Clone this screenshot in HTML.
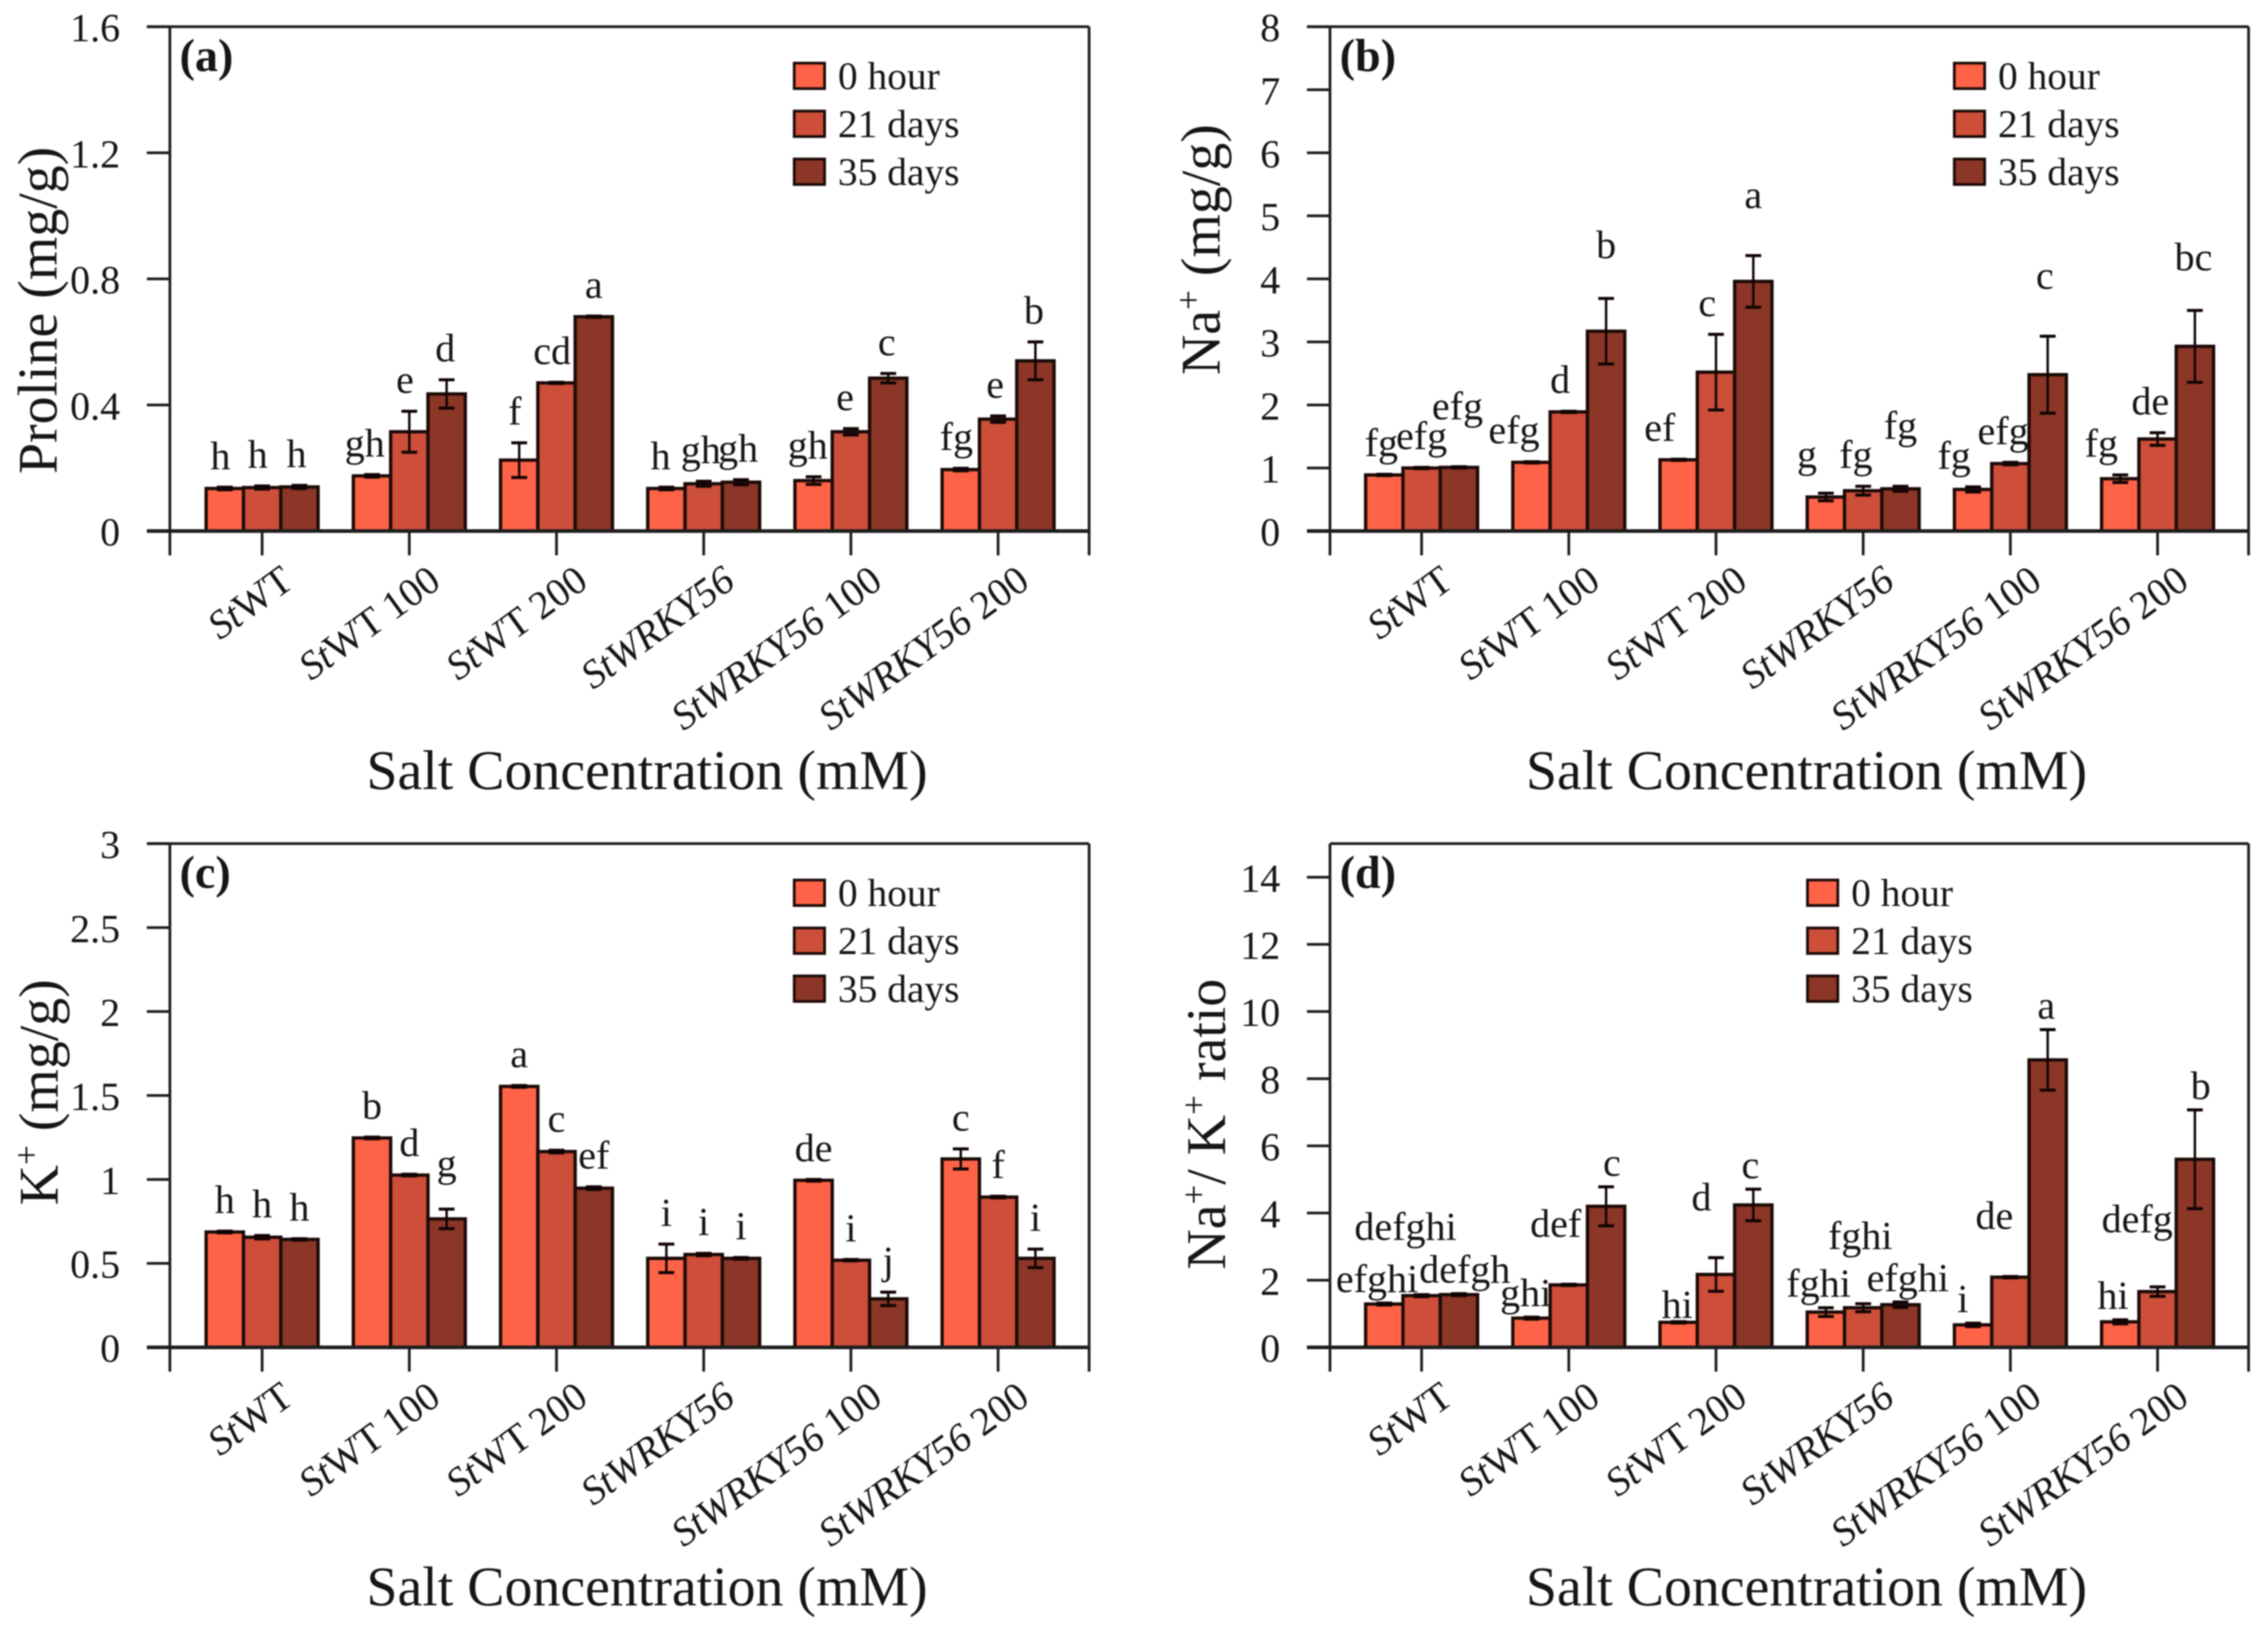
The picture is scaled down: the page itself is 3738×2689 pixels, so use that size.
<!DOCTYPE html>
<html lang="en">
<head>
<meta charset="utf-8">
<title>Salt stress physiology bar charts</title>
<style>
html,body{margin:0;padding:0;background:#fff;}
#chart{display:block;filter:blur(1px);}
text{font-family:"Liberation Serif",serif;fill:#161616;}
</style>
</head>
<body>
<svg id="chart" xmlns="http://www.w3.org/2000/svg" width="3738" height="2689" viewBox="0 0 3738 2689"></svg>
<script>
const categories = ['StWT','StWT 100','StWT 200','StWRKY56','StWRKY56 100','StWRKY56 200'];
const seriesNames = ['0 hour','21 days','35 days'];

const prolineValues = [[.135,.175,.225,.135,.16,.195],[.138,.315,.47,.15,.315,.355],[.14,.435,.68,.155,.485,.54]];
const prolineErrors = [[.004,.004,.055,.004,.012,.004],[.005,.065,.002,.008,.01,.01],[.005,.045,.002,.008,.015,.06]];
const prolineLetters = [['h','gh','f','h','gh','fg'],['h','e','cd','gh','e','e'],['h','d','a','gh','c','b']];
const prolineLift = [[0,0,0,0,0,0],[0,0,0,0,0,0],[0,0,0,0,0,0]];
const prolineNudge = [[-3,-5,-3,-4,-4,-3],[-3,-3,-3,-2,-4,-2],[-2,-1,0,-2,-1,-1]];
const prolineTicks = ['0','0.4','0.8','1.2','1.6'];

const sodiumValues = [[.89,1.09,1.13,.54,.66,.83],[1.0,1.89,2.52,.64,1.07,1.46],[1.01,3.17,3.96,.67,2.48,2.93]];
const sodiumErrors = [[.01,.01,.01,.06,.04,.06],[.01,.01,.6,.07,.02,.1],[.01,.52,.41,.04,.61,.57]];
const sodiumLetters = [['fg','efg','ef','g','fg','fg'],['efg','d','c','fg','efg','de'],['efg','b','a','fg','c','bc']];
const sodiumLift = [[0,0,0,1,0,0],[0,0,0,0,0,0],[4,3,4,4,4,3]];
const sodiumNudge = [[-2,-12,-13,-13,-13,-13],[0,-6,-6,-5,-5,-5],[-1,0,0,0,-2,-1]];
const sodiumTicks = ['0','1','2','3','4','5','6','7','8'];

const potassiumValues = [[.687,1.247,1.554,.53,.995,1.122],[.656,1.026,1.166,.553,.519,.895],[.643,.765,.948,.53,.289,.53]];
const potassiumErrors = [[.005,.005,.005,.085,.005,.06],[.01,.005,.008,.007,.004,.005],[.004,.058,.008,.005,.04,.055]];
const potassiumLetters = [['h','b','a','i','de','c'],['h','d','c','i','i','f'],['h','g','ef','i','j','i']];
const potassiumLift = [[0,0,0,0,0,0],[0,0,0,0,0,0],[0,2,0,0,0,0]];
const potassiumNudge = [[0,0,0,0,0,0],[0,0,0,0,0,0],[0,0,0,0,0,0]];
const potassiumTicks = ['0','0.5','1','1.5','2','2.5','3'];

const ratioValues = [[1.29,.87,.745,1.05,.67,.76],[1.54,1.86,2.17,1.18,2.09,1.66],[1.57,4.2,4.24,1.27,8.56,5.6]];
const ratioErrors = [[.03,.03,.02,.13,.05,.06],[.03,.02,.5,.12,.02,.14],[.03,.58,.47,.08,.9,1.47]];
const ratioLetters = [['efghi','ghi','hi','fghi','i','hi'],['defghi','def','d','fghi','de','defg'],['defgh','c','c','efghi','a','b']];
const ratioLift = [[-1,-1,-2,-1,-1,-1],[5,4,4,5,4,5],[-1,-1,-1,-1,-1,-1]];
const ratioNudge = [[-5,-4,-1,-5,-7,-5],[-11,-9,-10,-2,-11,-14],[4,4,-2,5,-1,4]];
const ratioTicks = ['0','2','4','6','8','10','12','14'];

const NS = 'http://www.w3.org/2000/svg';
const root = document.getElementById('chart');
const barColors = ['#FF6347','#CD4F39','#8B3626'];
const ink = '#1c0b08';

function make(parent, tag, attrs, content){
  const el = document.createElementNS(NS, tag);
  for (const k in attrs) el.setAttribute(k, attrs[k]);
  if (content !== undefined) el.textContent = content;
  parent.appendChild(el);
  return el;
}

function titleParts(parent, parts){
  parts.forEach(function(p){
    if (p === '+') {
      const s = make(parent, 'tspan', {dy:-32,'font-size':58}, '+');
      
      
      make(parent, 'tspan', {dy:32}, '\u200b');
    } else {
      make(parent, 'tspan', {}, p);
    }
  });
}

function drawCategoryLabel(g, name, x, y){
  const t = make(g, 'text', {x:x, y:y, 'text-anchor':'end', 'font-size':66,
    transform:'rotate(-36 '+x+' '+y+')'});
  
  
  const parts = name.split(' ');
  if (parts[0].indexOf('WRKY') >= 0) {
    make(t, 'tspan', {'font-style':'italic'}, parts[0]);
  } else {
    make(t, 'tspan', {'font-style':'italic'}, 'St');
    make(t, 'tspan', {}, parts[0].slice(2));
  }
  if (parts[1]) make(t, 'tspan', {}, ' ' + parts[1]);
}

function drawPanel(cfg){
  const g = make(root, 'g', {});
  
  

  const yScale = function(v){ return cfg.base - v / cfg.axisMax * (cfg.base - cfg.top); };
  const xCenter = function(i){ return cfg.firstTick + i * 242.6; };
  const barW = 61.5;
  const tickBottom = cfg.base + 40;
  const tickLeft = cfg.left - 38;

  // series bars
  cfg.values.forEach(function(series, s){
    series.forEach(function(v, i){
      const bx = xCenter(i) + (s - 1.5) * barW;
      const r = make(g, 'rect', {x:bx, y:yScale(v), width:barW, height:cfg.base - yScale(v),
        fill:barColors[s], stroke:ink, 'stroke-width':5.5});
      
      
    });
  });

  // error bars and letters
  cfg.values.forEach(function(series, s){
    series.forEach(function(v, i){
      const cx = xCenter(i) + (s - 1) * barW;
      const e = cfg.errors[s][i];
      const eg = make(g, 'g', {stroke:'#120404', fill:'none'});
      
      
      make(eg, 'line', {x1:cx, x2:cx, y1:yScale(v+e), y2:yScale(v-e), 'stroke-width':4});
      make(eg, 'line', {x1:cx-13, x2:cx+13, y1:yScale(v+e), y2:yScale(v+e), 'stroke-width':5});
      make(eg, 'line', {x1:cx-13, x2:cx+13, y1:yScale(v-e), y2:yScale(v-e), 'stroke-width':5});
      const ly = yScale(v+e) - 30 - cfg.lift[s][i] * 12;
      const lx = cx + cfg.nudge[s][i] * 2.4;
      const t = make(g, 'text', {x:lx, y:ly, 'text-anchor':'middle', 'font-size':66}, cfg.letters[s][i]);
      
      
    });
  });

  // frame and axes
  const frame = make(g, 'g', {stroke:'#1e1e1e', fill:'none', 'stroke-width':4.5});
  
  
  make(frame, 'line', {x1:cfg.left, x2:cfg.left, y1:cfg.top, y2:tickBottom});
  make(frame, 'line', {x1:cfg.right, x2:cfg.right, y1:cfg.top, y2:tickBottom});
  make(frame, 'line', {x1:cfg.topExtends ? tickLeft : cfg.left, x2:cfg.right, y1:cfg.top, y2:cfg.top});
  make(frame, 'line', {x1:tickLeft, x2:cfg.right, y1:cfg.base, y2:cfg.base, 'stroke-width':6});

  // y ticks
  cfg.ticks.forEach(function(label){
    const v = parseFloat(label);
    const y = yScale(v);
    make(frame, 'line', {x1:tickLeft, x2:cfg.left, y1:y, y2:y});
    const t = make(g, 'text', {x:tickLeft - 44, y:y + 24, 'text-anchor':'end', 'font-size':66}, label);
    
    
  });

  // x ticks and labels
  categories.forEach(function(name, i){
    const x = xCenter(i);
    make(frame, 'line', {x1:x, x2:x, y1:cfg.base, y2:tickBottom});
    drawCategoryLabel(g, name, x + 55, cfg.base + 90);
  });

  // axis titles
  const yt = make(g, 'text', {x:cfg.yTitleX, y:cfg.yTitleY, 'font-size':92,
    transform:'rotate(-90 '+cfg.yTitleX+' '+cfg.yTitleY+')'});
  
  
  titleParts(yt, cfg.yTitle);

  const xt = make(g, 'text', {x:cfg.xTitleX, y:cfg.base + 425, 'font-size':92}, 'Salt Concentration (mM)');
  
  

  const pl = make(g, 'text', {x:cfg.left + 16, y:cfg.top + 73, 'font-size':76, 'font-weight':'bold'}, '(' + cfg.id + ')');
  
  

  // legend
  const lg = make(g, 'g', {});
  
  
  seriesNames.forEach(function(n, s){
    const ey = cfg.top + 60 + s * 79;
    const entry = make(lg, 'g', {});
    
    
    make(entry, 'rect', {x:cfg.legendX, y:ey, width:50, height:42, fill:barColors[s], stroke:ink, 'stroke-width':4.5});
    make(entry, 'text', {x:cfg.legendX + 72, y:ey + 43, 'font-size':65}, n);
  });
}

drawPanel({id:'a', top:44, base:875, left:280, right:1795, axisMax:1.6, firstTick:432, topExtends:true,
  values:prolineValues, errors:prolineErrors, letters:prolineLetters, lift:prolineLift, nudge:prolineNudge, ticks:prolineTicks,
  yTitle:['Proline (mg/g)'], yTitleX:93, yTitleY:781, xTitleX:604, legendX:1309});
drawPanel({id:'b', top:44, base:875, left:2192, right:3706, axisMax:8, firstTick:2343, topExtends:true,
  values:sodiumValues, errors:sodiumErrors, letters:sodiumLetters, lift:sodiumLift, nudge:sodiumNudge, ticks:sodiumTicks,
  yTitle:['Na','+',' (mg/g)'], yTitleX:2010, yTitleY:618, xTitleX:2515, legendX:3221});
drawPanel({id:'c', top:1390, base:2220, left:280, right:1795, axisMax:3, firstTick:432, topExtends:true,
  values:potassiumValues, errors:potassiumErrors, letters:potassiumLetters, lift:potassiumLift, nudge:potassiumNudge, ticks:potassiumTicks,
  yTitle:['K','+',' (mg/g)'], yTitleX:95, yTitleY:1986, xTitleX:604, legendX:1309});
drawPanel({id:'d', top:1390, base:2220, left:2192, right:3706, axisMax:15, firstTick:2343, topExtends:false,
  values:ratioValues, errors:ratioErrors, letters:ratioLetters, lift:ratioLift, nudge:ratioNudge, ticks:ratioTicks,
  yTitle:['Na','+','/ K','+',' ratio'], yTitleX:2019, yTitleY:2092, xTitleX:2515, legendX:2979});
</script>
</body>
</html>
